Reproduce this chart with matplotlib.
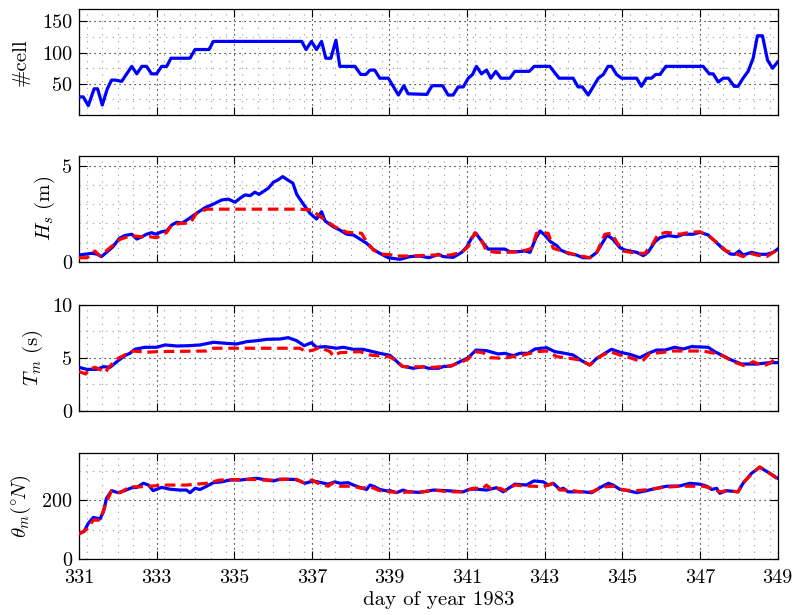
import matplotlib
matplotlib.use("Agg")
import matplotlib.pyplot as plt
from matplotlib.ticker import MultipleLocator, FixedLocator

plt.rcParams.update({
    "font.family": "serif",
    "font.serif": ["cmr10"],
    "mathtext.fontset": "cm",
    "axes.unicode_minus": False,
    "axes.formatter.use_mathtext": True,
    "font.size": 14,
})

# ---- data: (day of year, value) ----
ncell = [
    (331.00, 29), (331.11, 29), (331.24, 15), (331.39, 42), (331.48, 42), (331.60, 16),
    (331.73, 42), (331.84, 56), (331.93, 56), (332.10, 54), (332.36, 78), (332.49, 66),
    (332.62, 78), (332.74, 78), (332.87, 66), (333.00, 66), (333.13, 78), (333.26, 78),
    (333.37, 91), (333.86, 91), (333.99, 105), (334.35, 105), (334.46, 118), (336.74, 118),
    (336.85, 105), (336.99, 118), (337.12, 105), (337.25, 118), (337.36, 91), (337.49, 91),
    (337.62, 120), (337.72, 78), (338.11, 78), (338.26, 65), (338.39, 65), (338.50, 72),
    (338.62, 72), (338.75, 59), (338.97, 59), (339.23, 32), (339.37, 47), (339.48, 34),
    (339.96, 33), (340.10, 47), (340.37, 47), (340.51, 32), (340.64, 32), (340.77, 45),
    (340.90, 45), (341.03, 59), (341.14, 65), (341.24, 78), (341.37, 66), (341.50, 72),
    (341.61, 59), (341.74, 70), (341.87, 59), (342.10, 59), (342.23, 70), (342.60, 70),
    (342.73, 78), (343.13, 78), (343.37, 59), (343.73, 59), (343.86, 45), (343.97, 45),
    (344.12, 32), (344.38, 59), (344.51, 65), (344.63, 78), (344.72, 78), (344.85, 65),
    (344.98, 59), (345.37, 59), (345.49, 46), (345.62, 59), (345.75, 59), (345.86, 65),
    (345.97, 65), (346.12, 78), (347.08, 78), (347.24, 66), (347.34, 66), (347.47, 53),
    (347.60, 59), (347.73, 59), (347.88, 46), (347.98, 46), (348.11, 59), (348.24, 70),
    (348.37, 91), (348.48, 127), (348.61, 127), (348.74, 88), (348.87, 75), (349.00, 85),
]

hs_obs = [
    (331.00, 0.36), (331.33, 0.45), (331.46, 0.41), (331.58, 0.28), (331.71, 0.50), (331.88, 0.80),
    (332.04, 1.23), (332.18, 1.37), (332.36, 1.44), (332.49, 1.19), (332.62, 1.31), (332.74, 1.44),
    (332.87, 1.52), (332.98, 1.44), (333.13, 1.57), (333.26, 1.61), (333.39, 1.92), (333.52, 2.06),
    (333.65, 2.01), (333.82, 2.23), (334.03, 2.53), (334.25, 2.82), (334.46, 3.00), (334.68, 3.22),
    (334.85, 3.26), (335.02, 3.10), (335.15, 3.31), (335.28, 3.48), (335.41, 3.44), (335.53, 3.62),
    (335.64, 3.51), (335.88, 3.83), (336.01, 4.14), (336.13, 4.26), (336.25, 4.43), (336.35, 4.29),
    (336.51, 4.09), (336.61, 3.51), (336.78, 3.00), (336.95, 2.53), (337.12, 2.23), (337.25, 2.61),
    (337.34, 2.13), (337.55, 1.83), (337.72, 1.66), (337.90, 1.44), (338.07, 1.40), (338.24, 1.19),
    (338.41, 0.97), (338.58, 0.66), (338.75, 0.45), (338.97, 0.22), (339.27, 0.14), (339.53, 0.28),
    (339.78, 0.31), (340.02, 0.22), (340.26, 0.40), (340.38, 0.28), (340.64, 0.24), (340.86, 0.50),
    (341.00, 0.80), (341.12, 1.26), (341.23, 1.49), (341.35, 1.14), (341.54, 0.67), (341.80, 0.67),
    (341.97, 0.67), (342.10, 0.53), (342.28, 0.53), (342.49, 0.57), (342.62, 0.50), (342.77, 1.23),
    (342.88, 1.61), (343.00, 1.40), (343.15, 1.05), (343.31, 0.85), (343.41, 0.62), (343.60, 0.45),
    (343.82, 0.36), (343.99, 0.22), (344.16, 0.22), (344.34, 0.50), (344.48, 0.97), (344.61, 1.40),
    (344.75, 1.19), (344.94, 0.74), (345.07, 0.62), (345.37, 0.50), (345.54, 0.33), (345.67, 0.53),
    (345.84, 1.05), (345.97, 1.26), (346.18, 1.37), (346.40, 1.31), (346.57, 1.44), (346.82, 1.44),
    (347.00, 1.54), (347.21, 1.40), (347.38, 1.09), (347.60, 0.67), (347.79, 0.41), (347.90, 0.40),
    (348.01, 0.57), (348.11, 0.36), (348.33, 0.50), (348.54, 0.40), (348.72, 0.40), (348.89, 0.50),
    (349.00, 0.67),
]

hs_mod = [
    (331.00, 0.22), (331.21, 0.22), (331.41, 0.57), (331.54, 0.31), (331.80, 0.74), (332.06, 1.18),
    (332.36, 1.37), (332.57, 1.31), (332.83, 1.31), (333.00, 1.26), (333.26, 1.54), (333.39, 1.92),
    (333.65, 2.01), (333.86, 2.01), (334.03, 2.53), (334.29, 2.74), (336.69, 2.74), (336.99, 2.70),
    (337.25, 2.30), (337.59, 1.83), (337.90, 1.54), (338.28, 1.49), (338.41, 1.05), (338.58, 0.62),
    (338.84, 0.40), (339.01, 0.38), (339.18, 0.31), (339.53, 0.31), (339.78, 0.33), (340.13, 0.36),
    (340.56, 0.36), (340.86, 0.50), (341.03, 0.80), (341.20, 1.52), (341.37, 1.14), (341.50, 0.57),
    (341.76, 0.50), (342.02, 0.50), (342.28, 0.53), (342.53, 0.62), (342.66, 0.71), (342.79, 1.49),
    (343.09, 1.49), (343.22, 0.71), (343.56, 0.50), (343.82, 0.36), (344.16, 0.22), (344.34, 0.50),
    (344.55, 1.44), (344.72, 1.49), (344.85, 1.05), (345.02, 0.57), (345.37, 0.45), (345.58, 0.45),
    (345.79, 0.97), (345.92, 1.44), (346.14, 1.54), (346.48, 1.44), (346.74, 1.54), (347.00, 1.57),
    (347.25, 1.31), (347.51, 0.88), (347.68, 0.57), (347.90, 0.45), (348.11, 0.28), (348.29, 0.45),
    (348.46, 0.36), (348.72, 0.28), (348.89, 0.50), (349.00, 0.71),
]

tm_obs = [
    (331.00, 4.12), (331.20, 3.93), (331.46, 3.93), (331.63, 4.18), (331.80, 4.12), (332.01, 4.75),
    (332.18, 5.22), (332.31, 5.44), (332.44, 5.82), (332.70, 6.01), (333.00, 6.01), (333.22, 6.23),
    (333.52, 6.13), (333.82, 6.16), (334.12, 6.23), (334.46, 6.48), (334.80, 6.38), (335.06, 6.32),
    (335.32, 6.54), (335.58, 6.63), (335.84, 6.76), (336.18, 6.79), (336.39, 6.92), (336.61, 6.63),
    (336.80, 6.16), (336.99, 6.44), (337.12, 6.01), (337.34, 6.07), (337.64, 5.92), (337.81, 6.01),
    (338.07, 5.82), (338.32, 5.82), (338.50, 5.66), (338.75, 5.44), (339.01, 5.25), (339.14, 4.85),
    (339.31, 4.25), (339.61, 4.03), (339.87, 4.18), (340.00, 4.03), (340.26, 4.03), (340.38, 4.18),
    (340.60, 4.25), (340.73, 4.50), (341.03, 5.03), (341.23, 5.75), (341.50, 5.69), (341.80, 5.38),
    (341.97, 5.44), (342.19, 5.22), (342.36, 5.44), (342.57, 5.44), (342.75, 5.85), (343.05, 5.97),
    (343.26, 5.60), (343.52, 5.44), (343.73, 5.28), (343.95, 4.75), (344.16, 4.34), (344.34, 4.97),
    (344.72, 5.82), (344.94, 5.54), (345.19, 5.35), (345.45, 5.03), (345.67, 5.44), (345.88, 5.75),
    (346.10, 5.75), (346.35, 6.01), (346.57, 5.85), (346.78, 6.07), (347.21, 6.01), (347.38, 5.60),
    (347.60, 5.19), (347.81, 4.81), (348.07, 4.43), (348.29, 4.43), (348.46, 4.43), (348.63, 4.50),
    (348.80, 4.56), (349.00, 4.56),
]

tm_mod = [
    (331.00, 3.71), (331.18, 3.49), (331.24, 3.93), (331.41, 4.12), (331.54, 3.93), (331.67, 3.62),
    (331.80, 4.25), (332.01, 4.97), (332.23, 5.38), (332.40, 5.66), (332.74, 5.54), (333.00, 5.60),
    (334.29, 5.66), (334.46, 5.92), (336.69, 5.92), (336.85, 5.60), (337.04, 5.75), (337.21, 6.01),
    (337.47, 5.60), (337.55, 5.19), (337.72, 5.50), (338.24, 5.60), (338.50, 5.28), (339.01, 5.10),
    (339.14, 4.81), (339.35, 4.18), (339.61, 4.18), (340.13, 4.12), (340.56, 4.25), (340.81, 4.56),
    (341.03, 4.91), (341.20, 5.60), (341.41, 5.50), (341.59, 5.03), (341.93, 4.97), (342.19, 5.13),
    (342.45, 5.28), (342.79, 5.60), (343.05, 5.66), (343.31, 5.13), (343.65, 4.97), (343.91, 4.81),
    (344.16, 4.34), (344.42, 5.13), (344.68, 5.60), (344.94, 5.28), (345.19, 5.03), (345.50, 4.65),
    (345.71, 5.44), (345.97, 5.50), (346.31, 5.66), (346.74, 5.66), (347.08, 5.66), (347.38, 5.44),
    (347.60, 5.19), (347.85, 4.65), (348.16, 4.25), (348.37, 4.65), (348.63, 4.25), (348.80, 4.50),
    (349.00, 5.13),
]

dir_obs = [
    (331.00, 87), (331.13, 93), (331.24, 121), (331.37, 141), (331.54, 136), (331.63, 160),
    (331.71, 206), (331.84, 232), (332.01, 225), (332.18, 232), (332.36, 242), (332.49, 243),
    (332.66, 257), (332.79, 251), (332.91, 232), (333.13, 243), (333.34, 237), (333.60, 234),
    (333.77, 234), (333.86, 225), (333.99, 240), (334.12, 236), (334.29, 247), (334.46, 259),
    (334.68, 262), (334.89, 268), (335.15, 268), (335.36, 271), (335.58, 274), (335.84, 268),
    (336.01, 265), (336.18, 271), (336.56, 270), (336.69, 265), (336.82, 257), (337.04, 265),
    (337.21, 260), (337.42, 254), (337.59, 262), (337.72, 257), (337.94, 259), (338.07, 251),
    (338.24, 243), (338.41, 236), (338.50, 251), (338.62, 245), (338.75, 236), (338.93, 231),
    (339.01, 232), (339.18, 225), (339.35, 234), (339.48, 228), (339.78, 226), (340.13, 234),
    (340.47, 232), (340.90, 228), (341.07, 237), (341.24, 237), (341.50, 234), (341.76, 242),
    (341.93, 228), (342.23, 254), (342.53, 251), (342.72, 265), (342.96, 262), (343.09, 251),
    (343.22, 257), (343.39, 236), (343.48, 240), (343.60, 228), (343.99, 228), (344.21, 225),
    (344.42, 242), (344.64, 257), (344.76, 251), (344.94, 236), (345.07, 234), (345.37, 225),
    (345.62, 232), (345.88, 240), (346.14, 247), (346.48, 248), (346.74, 257), (347.00, 254),
    (347.17, 247), (347.30, 236), (347.43, 240), (347.51, 223), (347.68, 232), (347.98, 228),
    (348.11, 257), (348.33, 291), (348.54, 311), (348.76, 294), (349.00, 274),
]

dir_mod = [
    (331.00, 84), (331.20, 101), (331.37, 132), (331.54, 132), (331.71, 194), (331.84, 232),
    (332.06, 225), (332.31, 245), (332.57, 245), (332.83, 247), (333.17, 251), (333.77, 251),
    (334.29, 257), (334.63, 268), (335.15, 270), (335.49, 270), (335.75, 268), (336.01, 268),
    (336.35, 271), (336.61, 270), (336.78, 259), (336.99, 268), (337.16, 257), (337.42, 247),
    (337.55, 259), (337.72, 247), (338.07, 247), (338.28, 240), (338.50, 245), (338.75, 232),
    (339.01, 228), (339.27, 225), (339.53, 228), (339.87, 228), (340.13, 234), (340.56, 228),
    (340.90, 228), (341.16, 240), (341.41, 240), (341.50, 251), (341.63, 236), (341.85, 240),
    (341.97, 232), (342.23, 251), (342.45, 248), (342.70, 247), (342.96, 245), (343.22, 257),
    (343.39, 234), (343.65, 234), (343.91, 228), (344.21, 228), (344.51, 245), (344.76, 247),
    (345.02, 234), (345.37, 232), (345.71, 236), (346.05, 243), (346.48, 247), (346.74, 247),
    (347.08, 247), (347.30, 240), (347.51, 228), (347.68, 232), (347.98, 228), (348.11, 259),
    (348.33, 288), (348.54, 313), (348.76, 294), (349.00, 271),
]

day_ticks = [331, 333, 335, 337, 339, 341, 343, 345, 347, 349]
ylabels = ["#cell", r"$H_s\ (\mathrm{m})$", r"$T_m\ (\mathrm{s})$", r"$\theta_m({}^{\circ}\!N)$"]
yticks = [[50, 100, 150], [0, 5], [0, 5, 10], [0, 200]]
ylims = [(0, 170), (0, 5.5), (0, 10), (0, 360)]
yminor = [25, 1, 2.5, 100]
label_x = [-0.084, -0.049, -0.066, -0.083]

# ---- figure layout ----
fig = plt.figure(figsize=(7.93, 6.15), dpi=100)
left, width, height = 0.0996, 0.881, 0.1724
bottoms = [0.8130, 0.5740, 0.3317, 0.0911]

panels = [(ncell, None), (hs_obs, hs_mod), (tm_obs, tm_mod), (dir_obs, dir_mod)]

for i, (solid, dashed) in enumerate(panels):
    ax = fig.add_axes([left, bottoms[i], width, height])
    d, v = zip(*solid)
    ax.plot(d, v, color="#0000ff", lw=2.3, solid_joinstyle="round", zorder=3)
    if dashed is not None:
        d2, v2 = zip(*dashed)
        ax.plot(d2, v2, color="#ff0000", lw=2.3, linestyle=(0, (3.3, 1.8)),
                dash_capstyle="butt", zorder=4)

    ax.set_xlim(331, 349)
    ax.set_ylim(*ylims[i])
    ax.xaxis.set_major_locator(FixedLocator(day_ticks))
    ax.xaxis.set_minor_locator(MultipleLocator(0.4))
    ax.yaxis.set_major_locator(FixedLocator(yticks[i]))
    ax.yaxis.set_minor_locator(MultipleLocator(yminor[i]))

    ax.grid(which="major", color="black", linestyle=(0, (1, 3.5)), linewidth=0.8)
    ax.grid(which="minor", color="0.6", linestyle=(0, (1, 5)), linewidth=0.8)

    ax.tick_params(which="major", direction="in", length=6, width=0.8,
                   top=True, right=True, labelsize=14.5, pad=5)
    ax.tick_params(which="minor", length=0)
    for s in ax.spines.values():
        s.set_linewidth(0.9)

    ax.set_yticklabels([str(t) for t in yticks[i]])
    if i < 3:
        ax.set_xticklabels([])
    else:
        ax.tick_params(axis="x", pad=7)
        ax.set_xticklabels([str(t) for t in day_ticks])
        ax.set_xlabel("day of year 1983", fontsize=15)
        ax.xaxis.set_label_coords(0.515, -0.385)
        ax.xaxis.label.set_verticalalignment("center")

    ax.set_ylabel(ylabels[i], fontsize=15)
    ax.yaxis.set_label_coords(label_x[i], 0.5)
    ax.yaxis.label.set_verticalalignment("center")

fig.savefig("out.png", dpi=100)
